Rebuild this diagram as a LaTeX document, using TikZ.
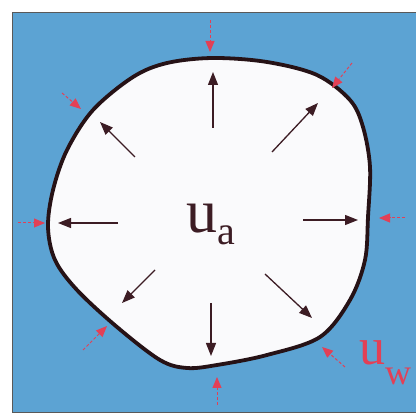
\documentclass[tikz,border=0pt]{standalone}
\usepackage{fontspec}
\setmainfont{Liberation Serif}
\usetikzlibrary{arrows.meta}
\definecolor{bgblue}{RGB}{92,163,211}
\definecolor{inner}{RGB}{250,250,252}
\definecolor{outline}{RGB}{38,18,22}
\definecolor{darkarrow}{RGB}{60,28,36}
\definecolor{redarrow}{RGB}{226,64,86}
\tikzset{
  inarrow/.style={draw=darkarrow, line width=1.3pt, -{Triangle[length=13pt,width=10pt]}},
  outarrow/.style={draw=redarrow, line width=1pt, dashed, dash pattern=on 3pt off 2pt, -{Triangle[length=11pt,width=9pt]}},
}
\begin{document}
\begin{tikzpicture}[x=1pt,y=-1pt]
\useasboundingbox (0,0) rectangle (416,414);
\fill[white] (0,0) rectangle (416,414);
\draw[fill=bgblue, draw=gray!70!black, line width=0.8pt] (12,12) rectangle (418,412);
\draw[fill=inner, draw=outline, line width=3.8pt]
  plot[smooth cycle, tension=0.55] coordinates {
  (213,58) (267,62) (317,75) (350,100) (363,127) (370,167) (368,217) (365,260)
  (350,300) (320,337) (267,355) (217,365) (187,368) (160,360) (117,327)
  (77,290) (55,260) (48,227) (53,190) (67,150) (93,110) (133,77) (167,63)};
% inner arrows
\coordinate (c1) at (213,128); \coordinate (t1) at (213,72);
\coordinate (c2) at (272,152); \coordinate (t2) at (318,103);
\coordinate (c3) at (303,220); \coordinate (t3) at (358,220);
\coordinate (c4) at (265,274); \coordinate (t4) at (312,318);
\coordinate (c5) at (211,303); \coordinate (t5) at (211,356);
\coordinate (c6) at (155,270); \coordinate (t6) at (122,303);
\coordinate (c7) at (118,223); \coordinate (t7) at (58,223);
\coordinate (c8) at (135,157); \coordinate (t8) at (100,122);
\foreach \i in {1,...,8} \draw[inarrow] (c\i) -- (t\i);
% outer red arrows
\coordinate (r1) at (210,20); \coordinate (s1) at (210,52);
\coordinate (r2) at (352,63); \coordinate (s2) at (332,88);
\coordinate (r3) at (62,93); \coordinate (s3) at (81,109);
\coordinate (r4) at (18,223); \coordinate (s4) at (45,223);
\coordinate (r5) at (405,218); \coordinate (s5) at (379,218);
\coordinate (r6) at (83,350); \coordinate (s6) at (107,326);
\coordinate (r7) at (217,405); \coordinate (s7) at (217,377);
\coordinate (r8) at (345,367); \coordinate (s8) at (322,347);
\foreach \i in {1,...,8} \draw[outarrow] (r\i) -- (s\i);
% labels
\node[anchor=base west, inner sep=0, text=darkarrow, font=\fontsize{62}{62}\selectfont] (ua) at (186,233) {u\raisebox{-12pt}{\fontsize{40}{40}\selectfont a}};
\node[anchor=base west, inner sep=0, text=redarrow, font=\fontsize{52}{52}\selectfont] (uw) at (359,365) {u\raisebox{-20pt}{\fontsize{36}{36}\selectfont w}};
\end{tikzpicture}
\end{document}
